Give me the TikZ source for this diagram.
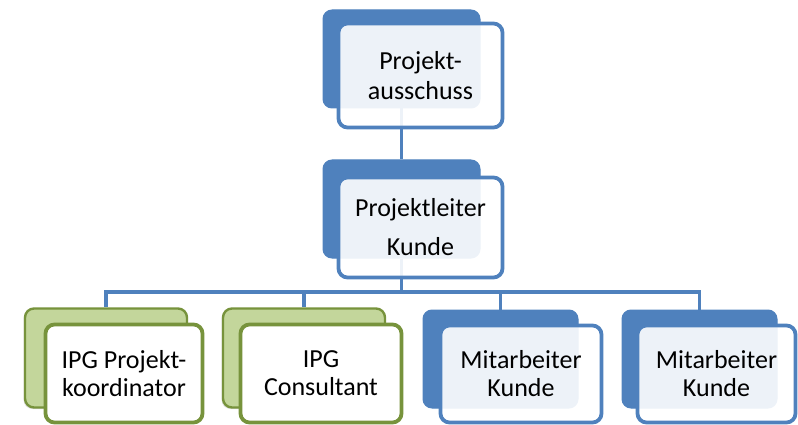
\documentclass[tikz,border=0pt]{standalone}
\usepackage{fontspec}
\setmainfont{Carlito}
\usetikzlibrary{shadows}
\definecolor{accblue}{HTML}{4F81BD}
\definecolor{accgreen}{HTML}{77933C}
\definecolor{lightgreen}{HTML}{C3D69B}
\tikzset{
  boxtext/.style={font=\fontsize{26}{28}\selectfont, align=center, inner sep=0pt},
  backblue/.style={rectangle, rounded corners=9pt, fill=accblue, draw=accblue, line width=1pt},
  frontblue/.style={rectangle, rounded corners=9pt, draw=accblue, line width=3.8pt,
    fill=white, fill opacity=0.9, text opacity=1, boxtext},
  backgreen/.style={rectangle, rounded corners=9pt, fill=lightgreen, draw=accgreen, line width=2.4pt,
    drop shadow={shadow xshift=-1.5pt, shadow yshift=-1.5pt, opacity=0.25}},
  frontgreen/.style={rectangle, rounded corners=9pt, draw=accgreen, line width=3.8pt, fill=white, boxtext},
  link/.style={draw=accblue, line width=3.8pt},
}
\begin{document}
\begin{tikzpicture}[x=1pt, y=-1pt]
\useasboundingbox (0,0) rectangle (798,425);

% back plates
\node[backblue, minimum width=157pt, minimum height=98pt] (b1) at (401.5,59) {};
\node[backblue, minimum width=157pt, minimum height=98pt] (b2) at (401.5,209) {};
\node[backgreen, minimum width=162pt, minimum height=99pt] (g1) at (106,358) {};
\node[backgreen, minimum width=162pt, minimum height=99pt] (g2) at (304,358) {};
\node[backblue, minimum width=155pt, minimum height=98pt] (m1) at (500.5,359) {};
\node[backblue, minimum width=155pt, minimum height=98pt] (m2) at (699.5,359) {};

% connectors
\coordinate (bus) at (401.5,292);
\path[link] (b1.south) -- (b2.north);
\path[link] (b2.south) -- (bus);
\path[link] (bus) -| (g1.north);
\path[link] (bus) -| (g2.north);
\path[link] (bus) -| (m1.north);
\path[link] (bus) -| (m2.north);

% front cards with labels
\node[frontblue, minimum width=164pt, minimum height=104pt,
      font=\fontsize{26}{29.5}\selectfont] (f1) at (420.5,75.5) {Projekt-\\ausschuss};
\node[frontblue, minimum width=164pt, minimum height=100pt,
      font=\fontsize{26}{39}\selectfont] (f2) at (420.5,227.5) {Projektleiter\\Kunde};
\node[frontgreen, minimum width=157pt, minimum height=98pt] (h1) at (124,373.5) {IPG Projekt-\\koordinator};
\node[frontgreen, minimum width=161pt, minimum height=98pt] (h2) at (321,373.5) {IPG\\Consultant};
\node[frontblue, minimum width=161pt, minimum height=97pt] (k1) at (521,374) {Mitarbeiter\\Kunde};
\node[frontblue, minimum width=158pt, minimum height=97pt] (k2) at (716.5,374) {Mitarbeiter\\Kunde};
\end{tikzpicture}
\end{document}
